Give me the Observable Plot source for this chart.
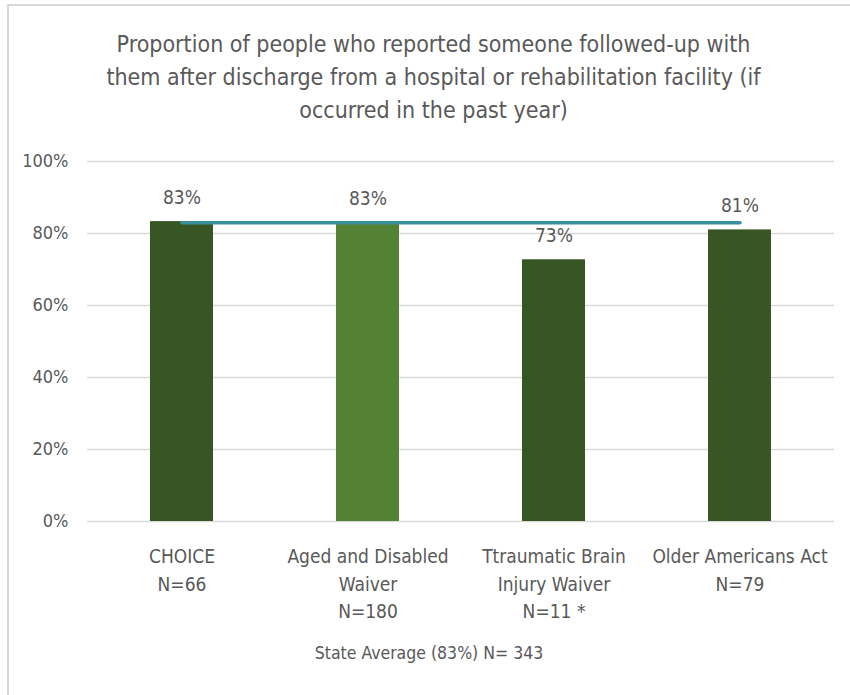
<!DOCTYPE html>
<html>
<head>
<meta charset="utf-8">
<script src="https://cdn.jsdelivr.net/npm/d3@7"></script>
<script src="https://cdn.jsdelivr.net/npm/@observablehq/plot@0.6"></script>
<style>
  html, body { margin: 0; padding: 0; background: #fff; overflow: hidden; }
  #wrap { position: relative; width: 850px; height: 695px; overflow: hidden;
          font-family: "Liberation Sans Narrow", "DejaVu Sans Condensed", "Roboto Condensed", sans-serif; color: #595959; }
  #frame { position: absolute; left: 7px; top: 4px; width: 900px; height: 800px; border: 2px solid #d9d9d9; box-sizing: border-box; }
  #title { position: absolute; left: 8px; width: 851px; top: 28px; text-align: center; font-size: 23px; line-height: 33px; }
  #chart { position: absolute; left: 0; top: 0; }
  #footer { position: absolute; left: 279px; width: 300px; top: 640px; text-align: center; font-size: 17.5px; line-height: 26px; white-space: nowrap; }
</style>
</head>
<body>
<div id="wrap">
  <div id="frame"></div>
  <div id="title">Proportion of people who reported someone followed-up with<br>them after discharge from a hospital or rehabilitation facility (if<br>occurred in the past year)</div>
  <div id="chart"></div>
  <div id="footer">State Average (83%) N= 343</div>
</div>
<script>
const categories = ["CHOICE", "Aged and Disabled Waiver", "Ttraumatic Brain Injury Waiver", "Older Americans Act"];
const categoryLabels = ["CHOICE\nN=66", "Aged and Disabled\nWaiver\nN=180", "Ttraumatic Brain\nInjury Waiver\nN=11 *", "Older Americans Act\nN=79"];
const values = [0.833, 0.83, 0.727, 0.81];
const barColors = ["#375623", "#548235", "#375623", "#375623"];
const stateAverage = 0.83;
const yTicks = [0, 0.2, 0.4, 0.6, 0.8, 1.0];

const bars = categories.map((c, i) => ({category: c, value: values[i], color: barColors[i], label: categoryLabels[i]}));
const avgLine = [categories[0], categories[categories.length - 1]].map(c => ({category: c, value: stateAverage}));
const pct = d => `${Math.round(d * 100)}%`;

const chart = Plot.plot({
  width: 850,
  height: 695,
  marginLeft: 87,
  marginRight: 16,
  marginTop: 161,
  marginBottom: 174,
  style: {fontFamily: '"Liberation Sans Narrow", "DejaVu Sans Condensed", sans-serif', color: "#595959", background: "transparent"},
  x: {domain: categories, paddingInner: 0.6625, paddingOuter: 0.33, axis: null},
  y: {domain: [0, 1], label: null},
  marks: [
    Plot.gridY(yTicks, {stroke: "#d9d9d9", strokeOpacity: 1, strokeWidth: 1.5}),
    Plot.axisY({ticks: yTicks, tickFormat: pct, tickSize: 0, tickPadding: 19, fontSize: 18, fill: "#595959", label: null}),
    Plot.barY(bars, {x: "category", y: "value", fill: "color"}),
    Plot.lineY(avgLine, {x: "category", y: "value", stroke: "#3a909a", strokeWidth: 3.5}),
    Plot.text(bars, {x: "category", y: "value", text: d => pct(d.value), dy: -24, fontSize: 19, fill: "#595959"}),
    Plot.text(bars, {x: "category", text: "label", frameAnchor: "bottom", lineAnchor: "top", dy: 22, lineHeight: 1.45, fontSize: 19, fill: "#595959"})
  ]
});
document.getElementById("chart").appendChild(chart);
</script>
</body>
</html>
